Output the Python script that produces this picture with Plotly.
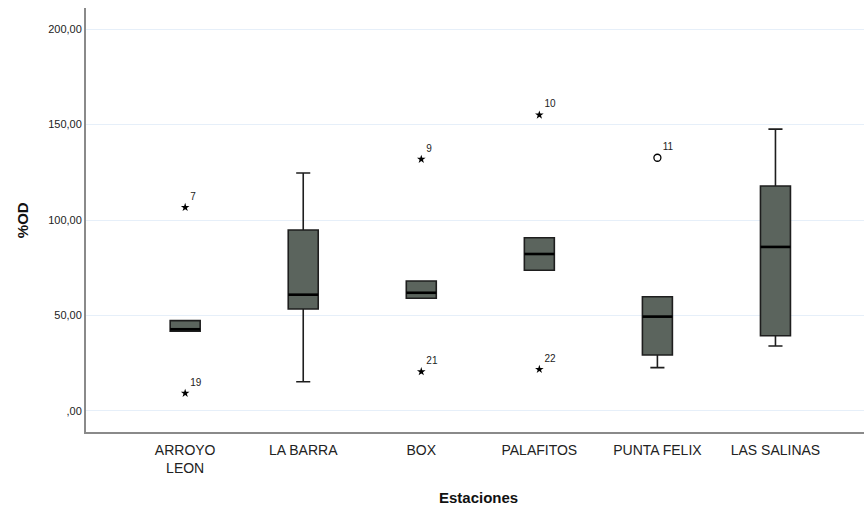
import plotly.graph_objects as go

categories = ["ARROYO<br>LEON", "LA BARRA", "BOX", "PALAFITOS", "PUNTA FELIX", "LAS SALINAS"]
q1 = [41.8, 53.4, 59.0, 73.7, 29.3, 39.4]
median = [42.8, 60.9, 61.9, 82.2, 49.4, 85.9]
q3 = [47.3, 94.8, 68.1, 90.7, 59.8, 117.8]
lower_fence = [41.8, 15.3, 59.0, 73.7, 22.7, 34.0]
upper_fence = [47.3, 124.6, 68.1, 90.7, 59.8, 147.6]

# outliers: category index, value, label
extreme_cat = [0, 0, 2, 2, 3, 3]
extreme_val = [106.6, 9.3, 131.8, 20.6, 155.0, 21.8]
extreme_lbl = ["7", "19", "9", "21", "10", "22"]
mild_cat = [4]
mild_val = [132.6]
mild_lbl = ["11"]

y_tickvals = [0, 50, 100, 150, 200]
y_ticktext = [",00", "50,00", "100,00", "150,00", "200,00"]

box_w = 0.254

fig = go.Figure()
fig.add_trace(go.Box(
    x=categories, q1=q1, median=median, q3=q3,
    lowerfence=lower_fence, upperfence=upper_fence,
    boxpoints=False, width=box_w, whiskerwidth=0.47,
    fillcolor="#5b645d", line=dict(color="#1e1e1e", width=1.6),
    showlegend=False, hoverinfo="skip",
))

# thick median lines
for i, m in enumerate(median):
    fig.add_shape(type="line", xref="x", yref="y",
                  x0=i - box_w / 2, x1=i + box_w / 2, y0=m, y1=m,
                  line=dict(color="black", width=2.6))

fig.add_trace(go.Scatter(
    x=[categories[i] for i in extreme_cat], y=extreme_val,
    mode="markers+text", text=extreme_lbl, textposition="top right",
    textfont=dict(family="Liberation Sans, Arial", size=10, color="#222"),
    marker=dict(symbol="star", size=6.5, color="black", line=dict(width=0)),
    showlegend=False, hoverinfo="skip",
))
fig.add_trace(go.Scatter(
    x=[categories[i] for i in mild_cat], y=mild_val,
    mode="markers+text", text=mild_lbl, textposition="top right",
    textfont=dict(family="Liberation Sans, Arial", size=10, color="#222"),
    marker=dict(symbol="circle-open", size=7, color="black", line=dict(width=1.3)),
    showlegend=False, hoverinfo="skip",
))

fig.add_annotation(text="<b>%OD</b>", xref="paper", yref="paper", x=-0.082, y=0.5,
                   xanchor="center", yanchor="middle", textangle=-90, showarrow=False,
                   font=dict(family="Liberation Sans, Arial", size=15, color="#111"))
fig.add_annotation(text="<b>Estaciones</b>", xref="paper", yref="paper", x=0.505, y=-0.155,
                   xanchor="center", yanchor="middle", showarrow=False,
                   font=dict(family="Liberation Sans, Arial", size=15, color="#111"))

fig.update_layout(
    width=864, height=512,
    margin=dict(l=86, r=0, t=8, b=80),
    plot_bgcolor="white", paper_bgcolor="white",
    font=dict(family="Liberation Sans, Arial", color="#222"),
    xaxis=dict(
        type="category", range=[-0.84, 5.75], automargin=False,
        showline=True, linecolor="#8a8a8a", linewidth=2,
        showgrid=False, ticks="", zeroline=False, ticklabelstandoff=4,
        tickfont=dict(size=14, color="#222"),
    ),
    yaxis=dict(
        range=[-11, 211], tickvals=y_tickvals, ticktext=y_ticktext, automargin=False,
        showline=True, linecolor="#8a8a8a", linewidth=2,
        showgrid=True, gridcolor="#e6eff9", gridwidth=1,
        ticks="", zeroline=False,
        tickfont=dict(size=11, color="#222"),
    ),
)

fig.write_html("out.html", config={"displayModeBar": False},
               post_script="document.body.style.margin='0px';document.body.style.overflow='hidden';")
